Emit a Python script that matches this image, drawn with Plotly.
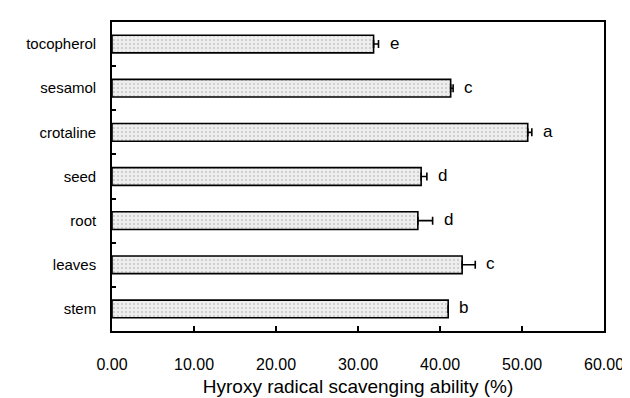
import plotly.graph_objects as go

categories = ["stem", "leaves", "root", "seed", "crotaline", "sesamol", "tocopherol"]
values = [41.0, 42.7, 37.3, 37.7, 50.7, 41.3, 31.9]
errors = [0.0, 1.6, 1.8, 0.7, 0.5, 0.3, 0.6]
letters = ["b", "c", "d", "d", "a", "c", "e"]
x_ticks = [0, 10, 20, 30, 40, 50, 60]
x_tick_labels = ["0.00", "10.00", "20.00", "30.00", "40.00", "50.00", "60.00"]

fig = go.Figure()
fig.add_trace(go.Bar(
    y=categories, x=values, orientation="h", width=0.4,
    marker=dict(color="#e4e4e4", line=dict(color="black", width=1.6),
                pattern=dict(shape=".", fgcolor="#a0a0a0", bgcolor="#eeeeee", size=4, solidity=0.2)),
    error_x=dict(type="data", array=errors, arrayminus=[0]*len(errors), symmetric=False,
                 color="black", thickness=1.6, width=4),
))

for c, v, e, t in zip(categories, values, errors, letters):
    fig.add_annotation(x=v + e, y=c, text=t, showarrow=False, xanchor="left",
                       xshift=9, yshift=1, font=dict(family="Liberation Sans, Arial", size=17, color="black"))

fig.update_layout(
    width=630, height=398,
    margin=dict(l=104, r=34, t=14, b=70),
    plot_bgcolor="white", paper_bgcolor="white",
    showlegend=False,
    font=dict(family="Liberation Sans, Arial", color="black"),
)
fig.update_xaxes(
    range=[0, 60], tickvals=x_ticks, ticktext=x_tick_labels,
    ticks="inside", ticklen=5, tickwidth=1.5, tickcolor="black",
    showline=True, linecolor="black", linewidth=1.6, mirror=True,
    showgrid=False, zeroline=False,
    tickfont=dict(size=16), ticklabelstandoff=18,
    title=dict(text="Hyroxy radical scavenging ability (%)", font=dict(size=19), standoff=8),
)
fig.update_yaxes(
    type="category", categoryorder="array", categoryarray=categories,
    range=[-0.5, 6.5],
    ticks="inside", tickson="boundaries", ticklen=4, tickwidth=1.5, tickcolor="black",
    showline=True, linecolor="black", linewidth=1.6, mirror=True,
    showgrid=False, tickfont=dict(size=15), ticklabelstandoff=11,
)

fig.write_html("out.html")
